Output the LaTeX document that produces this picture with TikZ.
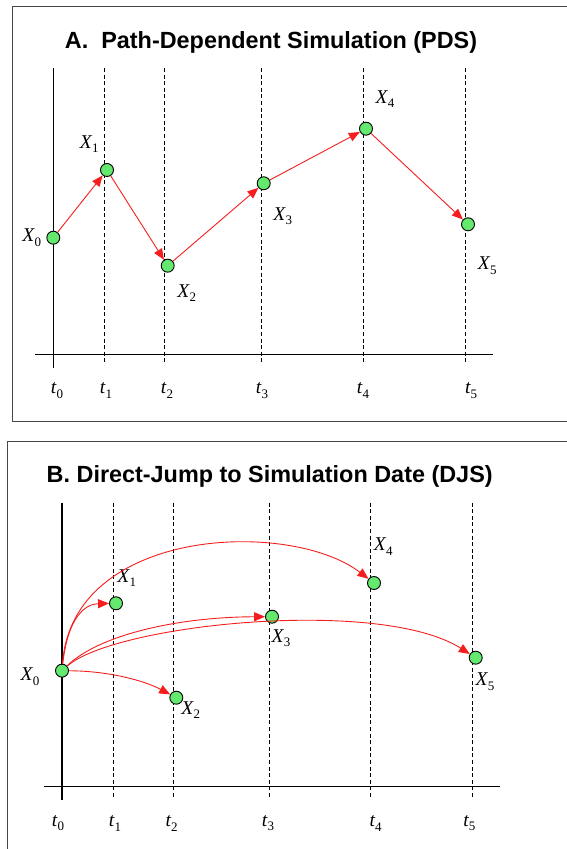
\documentclass[tikz,border=0pt]{standalone}
\usepackage{fontspec}
\setmainfont{Liberation Serif}
\newfontfamily\titlefont{Liberation Sans}
\usepackage{tikz}
\usetikzlibrary{
    arrows.meta,
    positioning
}
\definecolor{NodeGreen}{RGB}{100,232,110}
\definecolor{JumpRed}{RGB}{245,30,30}
\definecolor{FrameGray}{RGB}{70,70,70}
\newcommand{\lblx}[2]{\textit{#1}\kern-0.3pt\raisebox{-0.5ex}{\fontsize{13}{13}\selectfont #2}}
\tikzset{
  state/.style  = {circle, draw, fill=NodeGreen, minimum size=13pt,
                   inner sep=0pt, line width=0.9pt},
  lbl/.style    = {font=\fontsize{19.5}{21}\selectfont, inner sep=0pt},
  jump/.style   = {-{Triangle[length=11pt,width=9pt]}, JumpRed, line width=0.9pt},
  grid/.style   = {dash pattern=on 4pt off 2.6pt, line width=0.8pt},
  axis/.style   = {line width=1.1pt},
  panel/.style  = {draw=FrameGray, line width=1pt},
  ttl/.style    = {font=\titlefont\bfseries\fontsize{23.4}{28}\selectfont, anchor=base}
}

\begin{document}
\begin{tikzpicture}[x=1pt, y=1pt]
\useasboundingbox (0,0) rectangle (567,849);
% A. path-dependent
\draw[panel] (580,842) -- (12,842) -- (12,427) -- (580,427);
\node[ttl] (ttlA) at (271,800.7) {A.\ \ Path-Dependent Simulation (PDS)};
\draw[axis] (53.3,781) -- (53.3,481);
\draw[grid] (104.3,781) -- (104.3,484);
\draw[grid] (164.3,781) -- (164.3,484);
\draw[grid] (261,781) -- (261,484);
\draw[grid] (363,781) -- (363,484);
\draw[grid] (465.3,781) -- (465.3,484);
\draw[axis] (35,494.7) -- (492.7,494.7);
\node[lbl] (tA0) at (57,458.3) {\lblx{t}{0}};
\node[lbl] (tA1) at (106,458.3) {\lblx{t}{1}};
\node[lbl] (tA2) at (167,458.3) {\lblx{t}{2}};
\node[lbl] (tA3) at (262,458.3) {\lblx{t}{3}};
\node[lbl] (tA4) at (363,458.3) {\lblx{t}{4}};
\node[lbl] (tA5) at (471,458.3) {\lblx{t}{5}};
\node[state] (a0) at (53.3,611.3) {};
\node[state] (a1) at (107,679) {};
\node[state] (a2) at (167.7,583.3) {};
\node[state] (a3) at (263.7,665.7) {};
\node[state] (a4) at (366,720.3) {};
\node[state] (a5) at (468,624.7) {};
\node[lbl] (xA0) at (31.7,611.3) {\lblx{X}{0}};
\node[lbl] (xA1) at (89.3,705) {\lblx{X}{1}};
\node[lbl] (xA2) at (186.7,556) {\lblx{X}{2}};
\node[lbl] (xA3) at (282.7,633) {\lblx{X}{3}};
\node[lbl] (xA4) at (385,749.7) {\lblx{X}{4}};
\node[lbl] (xA5) at (487.3,583.3) {\lblx{X}{5}};
\draw[jump] (a0) -- (a1);
\draw[jump] (a1) -- (a2);
\draw[jump] (a2) -- (a3);
\draw[jump] (a3) -- (a4);
\draw[jump] (a4) -- (a5);

% B. direct jump
\draw[panel] (580,407.3) -- (7.3,407.3) -- (7.3,-5);
\node[ttl] (ttlB) at (269.7,366.7) {B. Direct-Jump to Simulation Date (DJS)};
\draw[axis] (62,346.3) -- (62,49);
\draw[grid] (113.7,346.3) -- (113.7,50);
\draw[grid] (173,346.3) -- (173,50);
\draw[grid] (269,346.3) -- (269,50);
\draw[grid] (370.7,346.3) -- (370.7,50);
\draw[grid] (472.3,346.3) -- (472.3,50);
\draw[axis] (44.3,62.3) -- (500,62.3);
\node[lbl] (tB0) at (58,25.7) {\lblx{t}{0}};
\node[lbl] (tB1) at (115,25.7) {\lblx{t}{1}};
\node[lbl] (tB2) at (171.7,25.7) {\lblx{t}{2}};
\node[lbl] (tB3) at (268,25.7) {\lblx{t}{3}};
\node[lbl] (tB4) at (375.7,25.7) {\lblx{t}{4}};
\node[lbl] (tB5) at (469.3,25.7) {\lblx{t}{5}};
\node[state] (b0) at (62,178.3) {};
\node[state] (b1) at (116,245.7) {};
\node[state] (b2) at (176.3,151.3) {};
\node[state] (b3) at (272,232.3) {};
\node[state] (b4) at (374,266) {};
\node[state] (b5) at (475.7,191.3) {};
\node[lbl] (xB0) at (30,172.3) {\lblx{X}{0}};
\node[lbl] (xB1) at (126.7,270.7) {\lblx{X}{1}};
\node[lbl] (xB2) at (190.7,139) {\lblx{X}{2}};
\node[lbl] (xB3) at (281,210.7) {\lblx{X}{3}};
\node[lbl] (xB4) at (383.3,302.3) {\lblx{X}{4}};
\node[lbl] (xB5) at (485,167.3) {\lblx{X}{5}};
\draw[jump] (b0) .. controls (68,232) and (85,245) .. (b1);
\draw[jump] (b0) .. controls (110,178) and (145,168) .. (b2);
\draw[jump] (b0) .. controls (100,215) and (180,232) .. (b3);
\draw[jump] (b0) .. controls (72,322) and (290,330) .. (b4);
\draw[jump] (b0) .. controls (115,225) and (380,252) .. (b5);
\end{tikzpicture}
\end{document}
